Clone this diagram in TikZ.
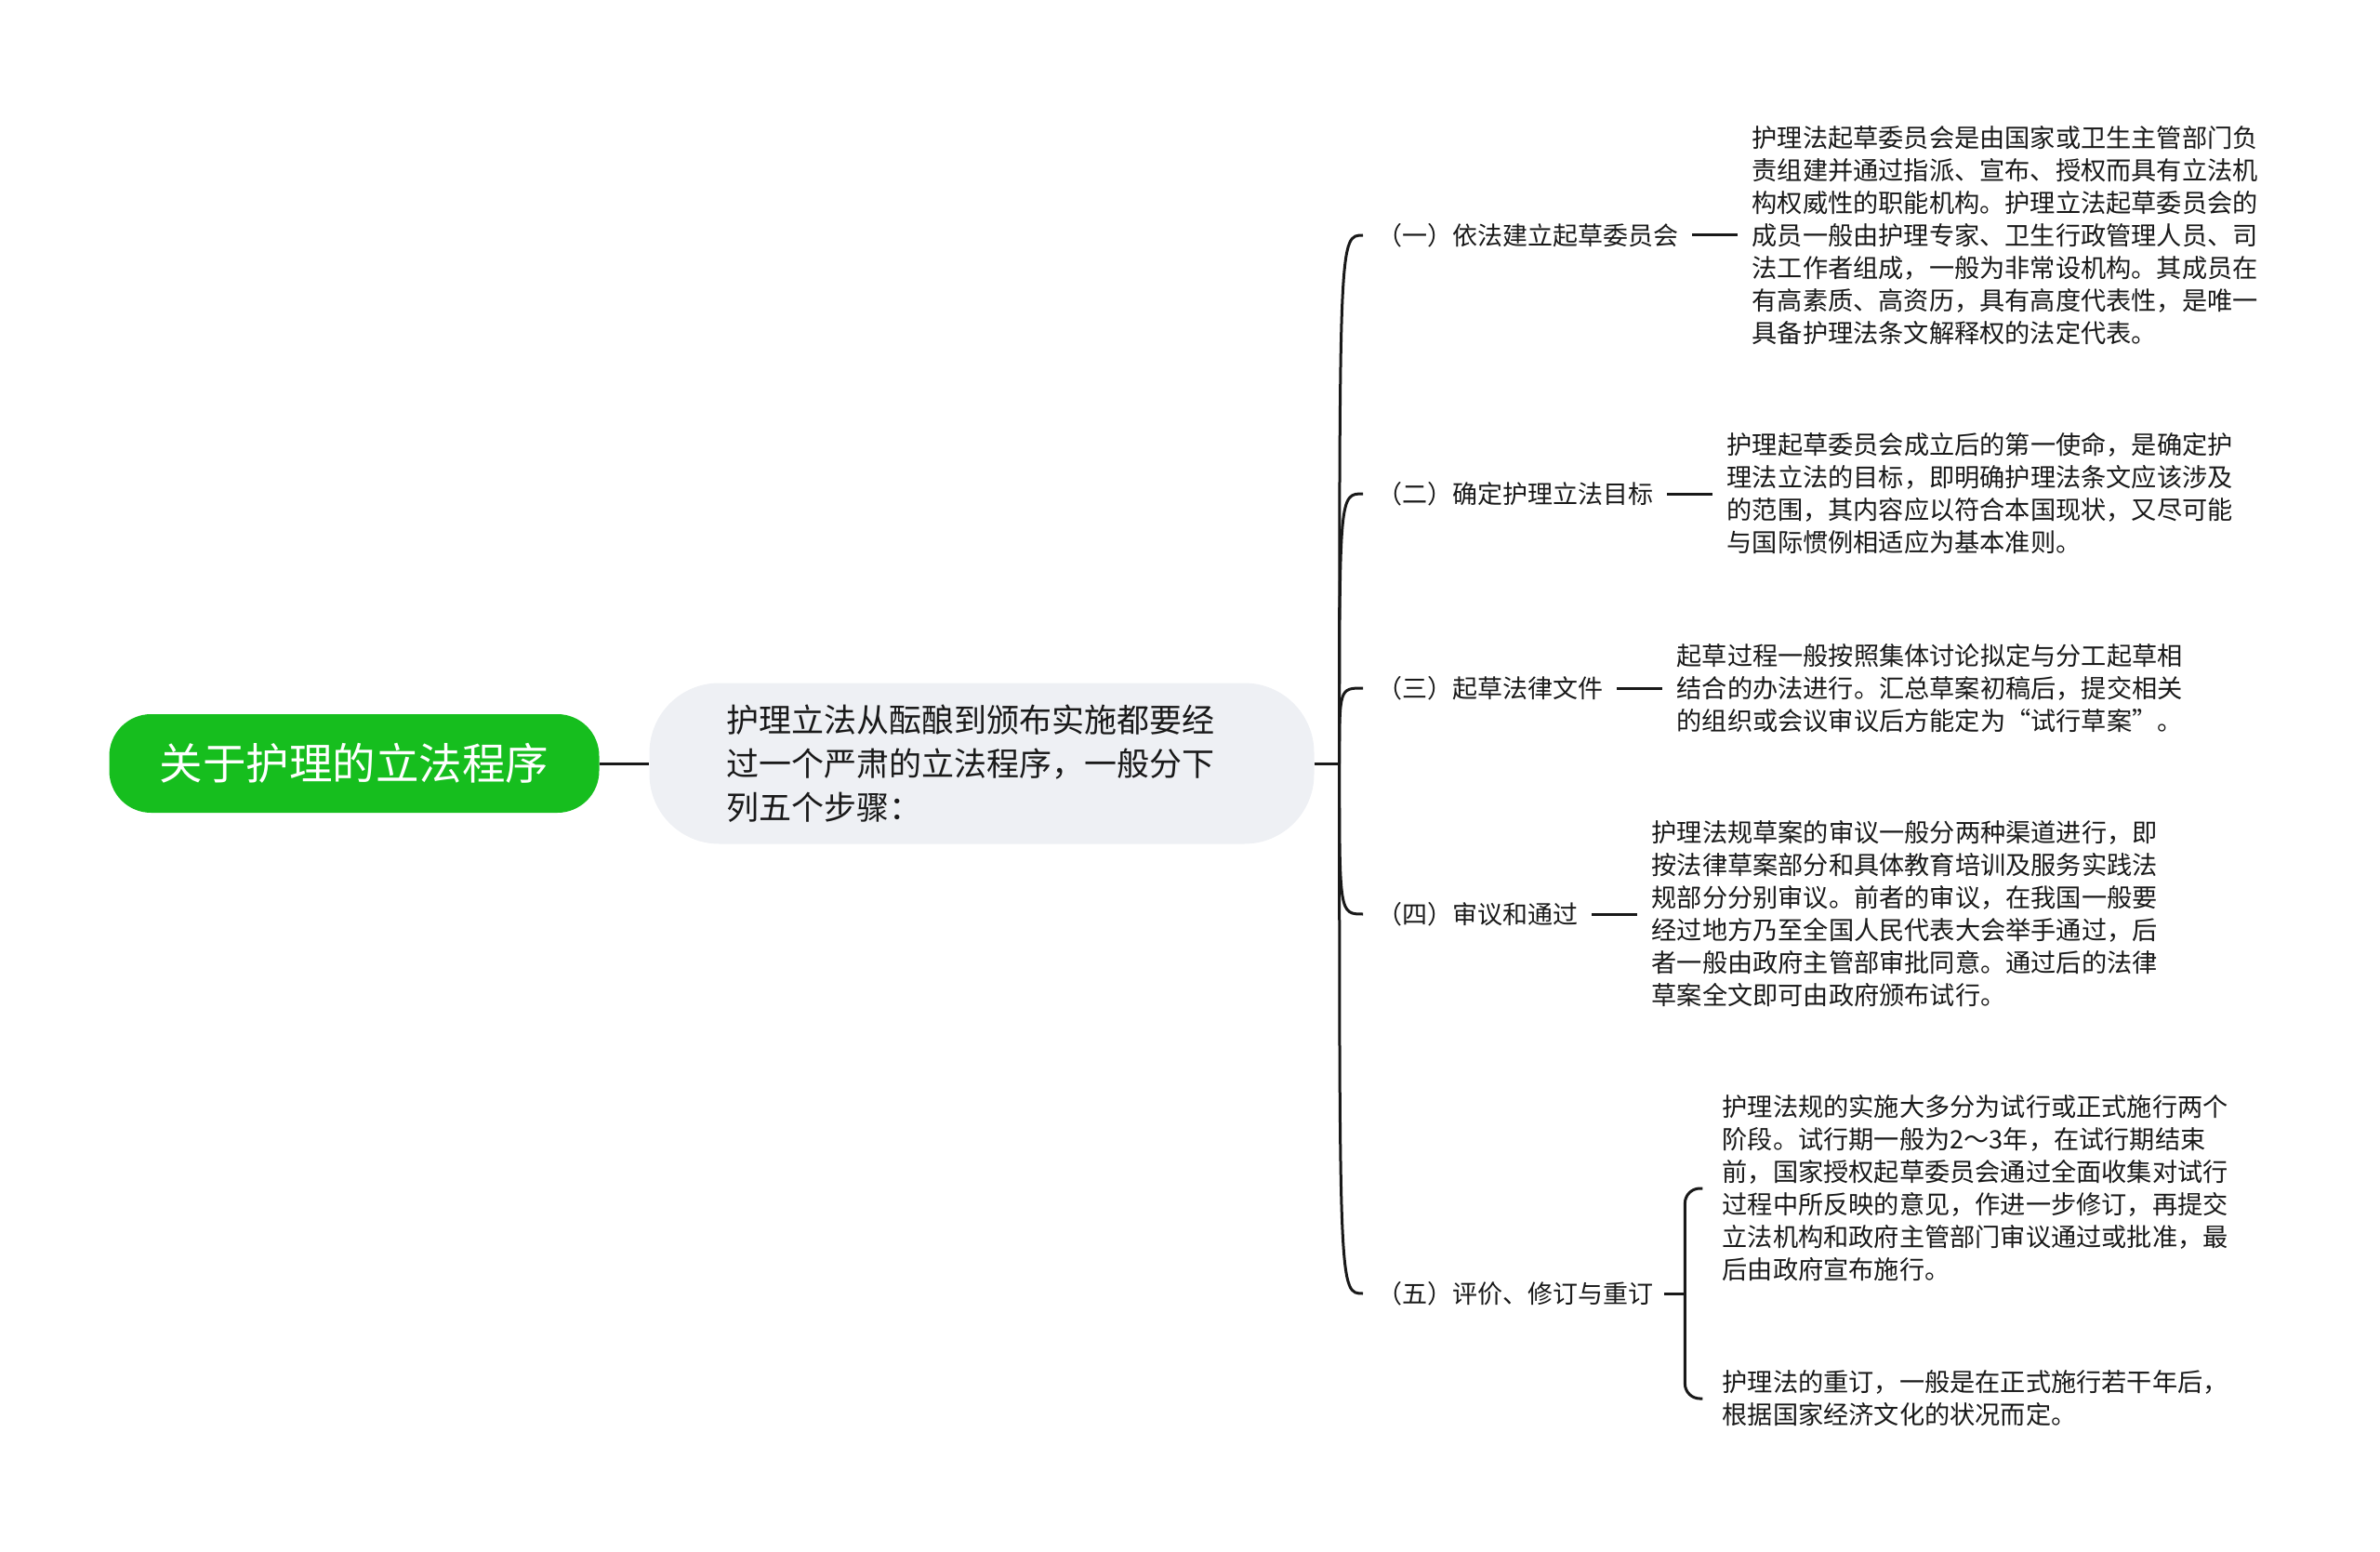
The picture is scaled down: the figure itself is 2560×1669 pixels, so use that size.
\documentclass[tikz,border=0pt]{standalone}
\usepackage{fontspec}
\usetikzlibrary{positioning, calc}
\newfontfamily\cjk{Noto Sans CJK SC}
\definecolor{colour_root}{HTML}{16BE1E}
\definecolor{colour_sub}{HTML}{EEF0F4}
\colorlet{colour_line}{gray!20!black}
\colorlet{colour_text}{gray!20!black}

\begin{document}
\begin{tikzpicture}
   [
      x=1pt, y=-1pt,
      root node/.style={fill=colour_root, text=white, minimum width=527pt, minimum height=106pt, rounded corners=45pt, font=\cjk\fontsize{46.5}{56}\selectfont},
      sub node/.style={fill=colour_sub, text=colour_text, align=left, text width=550pt, minimum width=715pt, minimum height=173pt, rounded corners=75pt, font=\cjk\fontsize{35}{47}\selectfont},
      label node/.style={anchor=west, inner sep=0pt, text=colour_text, font=\cjk\fontsize{27}{35}\selectfont},
      desc node/.style={anchor=west, inner sep=0pt, align=left, text=colour_text, font=\cjk\fontsize{27.2}{35}\selectfont},
      edge/.style={line width=3pt, colour_line},
   ]
   \useasboundingbox (0,0) rectangle (2560,1669);

   % =======================================================
   % Centre: root and summary
   % =======================================================

   \node[root node] (root) at (381,821) {关于护理的立法程序};
   \node[sub node] (sub) at (1056,821) {护理立法从酝酿到颁布实施都要经\\过一个严肃的立法程序，一般分下\\列五个步骤：};
   \coordinate[right=27pt of sub] (hub);

   \draw[edge] (root) -- (sub);
   \draw[edge] (sub) -- (hub);

   % =======================================================
   % Steps (labels)
   % =======================================================

   \node[label node] (l1) at (1481,253) {（一）依法建立起草委员会};
   \node[label node] (l2) at (1481,531) {（二）确定护理立法目标};
   \node[label node] (l3) at (1481,740) {（三）起草法律文件};
   \node[label node] (l4) at (1481,983) {（四）审议和通过};
   \node[label node] (l5) at (1481,1391) {（五）评价、修订与重订};

   % Curved branches from the hub
   \foreach \n in {l1, l2, l3, l4, l5}
      \draw[edge, shorten >=15pt] (hub) .. controls (hub |- \n.west) .. (\n.west);

   % =======================================================
   % Descriptions
   % =======================================================

   \node[desc node, right=79pt of l1] (d1) {护理法起草委员会是由国家或卫生主管部门负\\责组建并通过指派、宣布、授权而具有立法机\\构权威性的职能机构。护理立法起草委员会的\\成员一般由护理专家、卫生行政管理人员、司\\法工作者组成，一般为非常设机构。其成员在\\有高素质、高资历，具有高度代表性，是唯一\\具备护理法条文解释权的法定代表。};
   \node[desc node, right=79pt of l2] (d2) {护理起草委员会成立后的第一使命，是确定护\\理法立法的目标，即明确护理法条文应该涉及\\的范围，其内容应以符合本国现状，又尽可能\\与国际惯例相适应为基本准则。};
   \node[desc node, right=79pt of l3] (d3) {起草过程一般按照集体讨论拟定与分工起草相\\结合的办法进行。汇总草案初稿后，提交相关\\的组织或会议审议后方能定为“试行草案”。};
   \node[desc node, right=79pt of l4] (d4) {护理法规草案的审议一般分两种渠道进行，即\\按法律草案部分和具体教育培训及服务实践法\\规部分分别审议。前者的审议，在我国一般要\\经过地方乃至全国人民代表大会举手通过，后\\者一般由政府主管部审批同意。通过后的法律\\草案全文即可由政府颁布试行。};

   \foreach \n in {1,...,4}
      \draw[edge, shorten <=15pt, shorten >=15pt] (l\n) -- (d\n);

   % Step five: bracket with two parts
   \coordinate[right=34pt of l5] (b5);
   \node[desc node] (d5a) at ($(b5)+(40,-113)$) {护理法规的实施大多分为试行或正式施行两个\\阶段。试行期一般为2～3年，在试行期结束\\前，国家授权起草委员会通过全面收集对试行\\过程中所反映的意见，作进一步修订，再提交\\立法机构和政府主管部门审议通过或批准，最\\后由政府宣布施行。};
   \node[desc node] (d5b) at ($(b5)+(40,113)$) {护理法的重订，一般是在正式施行若干年后，\\根据国家经济文化的状况而定。};

   \draw[edge, shorten <=12pt] (l5) -- (b5);
   \draw[edge, rounded corners=16pt, shorten >=21pt] (b5) |- (d5a.west);
   \draw[edge, rounded corners=16pt, shorten >=21pt] (b5) |- (d5b.west);

\end{tikzpicture}
\end{document}
